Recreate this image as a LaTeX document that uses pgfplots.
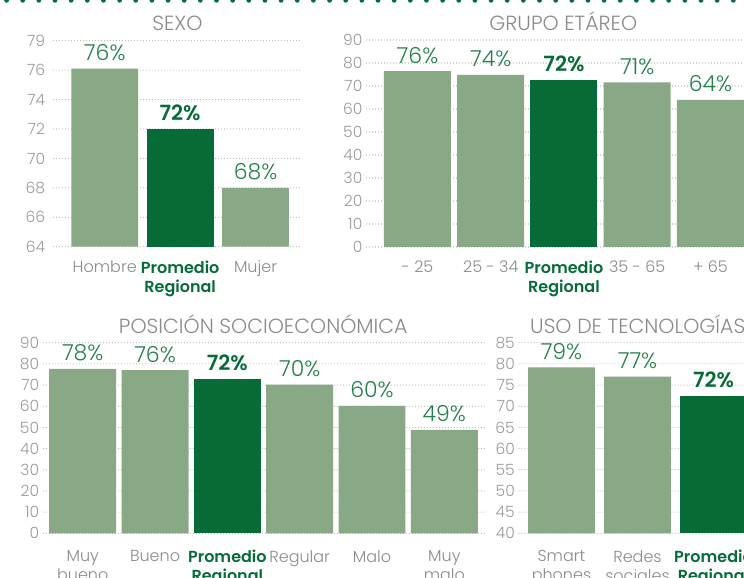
\documentclass[border=0pt]{standalone}
\usepackage{pgfplots}
\pgfplotsset{compat=1.18}
\usepackage{fontspec}
\setmainfont{Poppins Light}[BoldFont={Poppins SemiBold}]
\definecolor{lightbar}{HTML}{88A886}
\definecolor{dkgreen}{HTML}{076B38}
\definecolor{valgreen}{HTML}{23804A}
\definecolor{titlegray}{HTML}{8A8A8A}
\definecolor{tickgray}{HTML}{9A9A9A}
\definecolor{gridgray}{HTML}{A8A8A8}
\newcommand{\prom}{\textbf{\textcolor{dkgreen}{Promedio}}\\\textbf{\textcolor{dkgreen}{Regional}}}
\pgfplotsset{
  panel/.style={
    scale only axis, anchor=south west, clip=false,
    axis line style={draw=none},
    tick style={draw=none},
    ymajorgrids,
    major grid style={gridgray, line width=1.1pt, line cap=round, dash pattern=on 0pt off 3pt},
    yticklabel style={font=\fontsize{15.5}{15.5}\selectfont, text=tickgray, inner xsep=0pt, xshift=-4pt},
    xticklabel style={font=\fontsize{16}{19}\selectfont, text=titlegray, align=center, anchor=north, inner sep=0pt, yshift=-9.5pt},
    /pgf/number format/assume math mode=true,
    ybar,
    nodes near coords={\pgfplotspointmeta\%},
    point meta=explicit symbolic,
  },
  lightbars/.style={draw=none, fill=lightbar, bar shift=0pt,
    every node near coord/.append style={font=\fontsize{22}{22}\selectfont, text=valgreen, anchor=base, yshift=8pt, inner sep=0pt}},
  darkbars/.style={draw=none, fill=dkgreen, bar shift=0pt,
    every node near coord/.append style={font=\fontsize{21}{21}\selectfont\bfseries, text=dkgreen, anchor=base, yshift=8pt, inner sep=0pt}},
}
\begin{document}
\begin{tikzpicture}
\useasboundingbox (0pt,0pt) rectangle (744pt,578pt);
\clip (0pt,0pt) rectangle (744pt,578pt);
\draw[dkgreen, line width=4.7pt, line cap=round, dash pattern=on 0pt off 16.15pt] (6.55pt,577.6pt) -- (770pt,577.6pt);

% titles
\node[anchor=base, text=titlegray, font=\fontsize{20.5}{20.5}\selectfont, inner sep=0] at (177.5pt,547.3pt) {SEXO};
\node[anchor=base, text=titlegray, font=\fontsize{20.5}{20.5}\selectfont, inner sep=0] at (563.3pt,547.3pt) {GRUPO ETÁREO};
\node[anchor=base, text=titlegray, font=\fontsize{20.5}{20.5}\selectfont, inner sep=0] at (263.3pt,244.7pt) {POSICIÓN SOCIOECONÓMICA};
\node[anchor=base west, text=titlegray, font=\fontsize{20.5}{20.5}\selectfont, inner sep=0] at (530pt,244.7pt) {USO DE TECNOLOGÍAS};

% Panel 1: SEXO
\begin{axis}[panel, at={(53.3pt,331.3pt)}, width=248.7pt, height=206pt,
  xmin=-0.682, xmax=2.616, ymin=64, ymax=78,
  ytick={64,66,68,70,72,74,76,78}, yticklabels={64,66,68,70,72,74,76,79},
  yticklabel style={xshift=-4pt},
  xtick={0,1,2}, xticklabels={Hombre,\prom,Mujer},
  bar width=0.887]
\addplot[lightbars] table[x=x,y=y,meta=l] {
x y l
0 76.1 76
2 68 68
};
\addplot[darkbars] table[x=x,y=y,meta=l] {
x y l
1 72 72
};
\end{axis}

% Panel 2: GRUPO ETAREO
\begin{axis}[panel, at={(366.5pt,331pt)}, width=400pt, height=207pt,
  xmin=-0.696, xmax=4.765, ymin=0, ymax=90,
  ytick={0,10,...,90},
  xtick={0,1,2,3,4}, xticklabels={- 25,25 - 34,\prom,35 - 65,+ 65},
  bar width=0.915]
\addplot[lightbars] table[x=x,y=y,meta=l] {
x y l
0 76.5 76
1 74.8 74
3 71.6 71
4 64 64
};
\addplot[darkbars] table[x=x,y=y,meta=l] {
x y l
2 72.8 72
};
\end{axis}

% Panel 3: POSICION SOCIOECONOMICA
\begin{axis}[panel, at={(43.3pt,44.7pt)}, width=443.7pt, height=190.6pt,
  xmin=-0.545, xmax=5.59, ymin=0, ymax=90,
  ytick={0,10,...,90},
  xtick={0,1,2,3,4,5}, xticklabels={Muy\\bueno,Bueno,\prom,Regular,Malo,Muy\\malo},
  xticklabel style={yshift=-3pt},
  bar width=0.926]
\addplot[lightbars] table[x=x,y=y,meta=l] {
x y l
0 77.6 78
1 77.1 76
3 70.2 70
4 60.2 60
5 48.8 49
};
\addplot[darkbars] table[x=x,y=y,meta=l] {
x y l
2 72.9 72
};
\end{axis}

% Panel 4: USO DE TECNOLOGIAS
\begin{axis}[panel, at={(519pt,44.7pt)}, width=300pt, height=190.6pt,
  xmin=-0.559, xmax=3.388, ymin=40, ymax=85,
  ytick={40,45,...,85},
  xtick={0,1,2}, xticklabels={Smart\\phones,Redes\\sociales,\prom},
  xticklabel style={yshift=-3pt},
  bar width=0.88]
\addplot[lightbars] table[x=x,y=y,meta=l] {
x y l
0 79.2 79
1 77 77
};
\addplot[darkbars] table[x=x,y=y,meta=l] {
x y l
2 72.5 72
};
\end{axis}
\end{tikzpicture}
\end{document}
